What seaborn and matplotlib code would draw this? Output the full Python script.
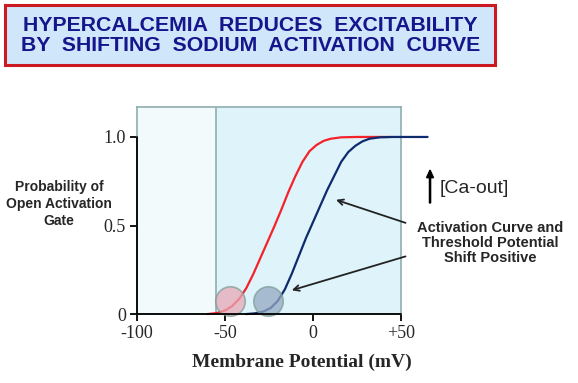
import matplotlib
matplotlib.use("Agg")
import matplotlib.pyplot as plt
import matplotlib.patches as patches
import seaborn as sns

# Activation curves (membrane potential in mV, open probability)
normal_mv = [-60, -55, -50, -46, -42, -38, -34, -30, -26, -22, -18, -14, -10, -6, -2,
             2, 6, 10, 16, 25, 44]
normal_p = [0, 0.005, 0.02, 0.045, 0.085, 0.145, 0.225, 0.315, 0.405, 0.495, 0.59, 0.69,
            0.78, 0.86, 0.92, 0.955, 0.978, 0.99, 0.998, 1.0, 1.0]

hyper_mv = [-38, -33, -28, -24, -20, -16, -12, -8, -4, 0, 4, 8, 12, 16, 20, 24, 28,
            32, 38, 45, 65]
hyper_p = [0, 0.004, 0.015, 0.035, 0.075, 0.14, 0.23, 0.33, 0.43, 0.52, 0.61, 0.70,
           0.78, 0.86, 0.915, 0.95, 0.975, 0.99, 0.998, 1.0, 1.0]

# threshold markers
thresh_mv = [-47, -25.4]
thresh_p = [0.075, 0.075]

x_ticks = [-100, -50, 0, 50]
x_tick_labels = ["-100", "-50", "0", "+50"]
y_ticks = [0, 0.5, 1.0]
y_tick_labels = ["0", "0.5", "1.0"]

title = "HYPERCALCEMIA  REDUCES  EXCITABILITY\nBY  SHIFTING  SODIUM  ACTIVATION  CURVE"
ylabel_lines = ["Probability of", "Open Activation", "Gate"]

sns.set_style("white")
plt.rcParams['font.family'] = ['Liberation Sans', 'DejaVu Sans']

fig = plt.figure(figsize=(5.78, 3.83), dpi=100)
ax = fig.add_axes([0.237, 0.180, 0.457, 0.541])
ax.set_xlim(-100, 50)
ax.set_ylim(0, 1.17)

# background regions and frame
ax.axvspan(-100, -55, color="#f3fafc", zorder=0)
ax.axvspan(-55, 50, color="#dff3fa", zorder=0)
ax.axvline(-55, color="#90aeb0", lw=1.2, zorder=1)
for s in ["top", "right", "left", "bottom"]:
    ax.spines[s].set_color("#90aeb0")
    ax.spines[s].set_linewidth(1.2)

sns.lineplot(x=normal_mv, y=normal_p, color="#f4222a", lw=1.6, ax=ax, clip_on=False, zorder=4)
sns.lineplot(x=hyper_mv, y=hyper_p, color="#0e2b6e", lw=1.6, ax=ax, clip_on=False, zorder=4)

sns.scatterplot(x=thresh_mv[:1], y=thresh_p[:1], s=450, color="#e7a9b6", alpha=0.75,
                edgecolor="#7f9f9a", linewidth=1.2, ax=ax, zorder=5, clip_on=False)
sns.scatterplot(x=thresh_mv[1:], y=thresh_p[1:], s=450, color="#93a8c2", alpha=0.75,
                edgecolor="#7f9f9a", linewidth=1.2, ax=ax, zorder=5, clip_on=False)

# black axis lines over the frame
ax.plot([-100, -100], [0, 1.0], color="black", lw=1.3, zorder=6, clip_on=False)
ax.plot([-100, 50], [0, 0], color="black", lw=1.3, zorder=6, clip_on=False)

ax.set_xticks(x_ticks)
ax.set_xticklabels(x_tick_labels, family="Liberation Serif", fontsize=13)
ax.set_yticks(y_ticks)
ax.set_yticklabels(y_tick_labels, family="Liberation Serif", fontsize=13)
ax.tick_params(axis="both", direction="out", length=5, width=1.3, color="black",
               bottom=True, left=True, pad=3)

fig.text(0.522, 0.053, "Membrane Potential (mV)", ha="center", va="center",
         family="Liberation Serif", fontweight="bold", fontsize=14)
for line, yy in zip(ylabel_lines, [0.512, 0.4674, 0.423]):
    fig.text(0.102, yy, line, ha="center", va="center", fontsize=10, fontweight="bold")

# annotation arrows
ax.annotate("", xy=(11.5, 0.65), xytext=(54, 0.51),
            arrowprops=dict(arrowstyle="->", color="#222222", lw=1.3), annotation_clip=False)
ax.annotate("", xy=(-13.6, 0.13), xytext=(54, 0.33),
            arrowprops=dict(arrowstyle="->", color="#222222", lw=1.3), annotation_clip=False)
fig.text(0.848, 0.366, "Activation Curve and\nThreshold Potential\nShift Positive",
         ha="center", va="center", fontsize=10.5, fontweight="bold", linespacing=1.12)

fig.patches.append(patches.FancyArrow(0.744, 0.470, 0, 0.086, width=0.002, head_width=0.012,
                                      head_length=0.02, color="black", transform=fig.transFigure,
                                      length_includes_head=True))
fig.text(0.761, 0.507, "[Ca-out]", ha="left", va="center", fontsize=14)

# title box
fig.patches.append(patches.Rectangle((0.0095, 0.830), 0.847, 0.158, transform=fig.transFigure,
                                     facecolor="#cfe6fb", edgecolor="#cc1a22", lw=2.2))
fig.text(0.433, 0.907, title, ha="center", va="center", fontsize=15.3, fontweight="bold",
         color="#15158c", linespacing=1.1)

fig.savefig("out.png", dpi=100)
